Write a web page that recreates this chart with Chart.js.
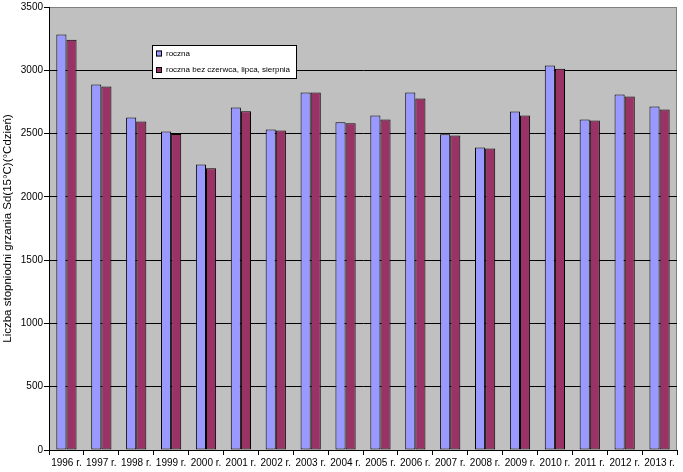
<!DOCTYPE html>
<html>
<head>
<meta charset="utf-8">
<script src="https://cdn.jsdelivr.net/npm/chart.js@4.4.1/dist/chart.umd.min.js"></script>
<style>
  html, body { margin: 0; padding: 0; background: #fff; }
  #wrap { width: 683px; height: 472px; position: relative; }
</style>
</head>
<body>
<div id="wrap"><canvas id="barChart"></canvas></div>
<script>
const years = ['1996 r.', '1997 r.', '1998 r.', '1999 r.', '2000 r.', '2001 r.', '2002 r.', '2003 r.', '2004 r.',
               '2005 r.', '2006 r.', '2007 r.', '2008 r.', '2009 r.', '2010 r.', '2011 r.', '2012 r.', '2013 r.'];
const roczna = [3282, 2887, 2627, 2516, 2255, 2705, 2532, 2824, 2589, 2642, 2824, 2495, 2390, 2674, 3037, 2611, 2808, 2713];
const bezLata = [3242, 2871, 2595, 2497, 2226, 2676, 2524, 2824, 2582, 2611, 2777, 2484, 2382, 2642, 3013, 2603, 2792, 2690];
const seriesNames = ['roczna', 'roczna bez czerwca, lipca, sierpnia'];
const yTicks = [0, 500, 1000, 1500, 2000, 2500, 3000, 3500];

const FONT = 'Arial, "Liberation Sans", sans-serif';

// grey plot area like the old Excel chart
const plotBackground = {
  id: 'plotBackground',
  beforeDraw(chart) {
    const a = chart.chartArea;
    const c = chart.ctx;
    c.save();
    c.fillStyle = '#c0c0c0';
    c.fillRect(a.left, a.top, a.right - a.left, a.bottom - a.top);
    c.strokeStyle = '#808080';
    c.lineWidth = 1;
    c.strokeRect(a.left + 0.5, a.top + 0.5, a.right - a.left - 1, a.bottom - a.top);
    c.restore();
  }
};

// boxed legend floating inside the plot
const boxLegend = {
  id: 'boxLegend',
  afterDraw(chart) {
    const c = chart.ctx;
    const x = 152, y = 45, w = 144, h = 33;
    c.save();
    c.fillStyle = '#fff';
    c.fillRect(x, y, w, h);
    c.strokeStyle = '#000';
    c.lineWidth = 1;
    c.strokeRect(x + 0.5, y + 0.5, w, h);
    c.font = '8px ' + FONT;
    c.textBaseline = 'middle';
    chart.data.datasets.forEach((ds, i) => {
      const cy = y + 8.5 + i * 16.5;
      c.fillStyle = ds.backgroundColor;
      c.fillRect(x + 4, cy - 3, 6, 6);
      c.strokeRect(x + 4.5, cy - 2.5, 5, 5);
      c.fillStyle = '#000';
      c.fillText(ds.label, x + 14, cy);
    });
    c.restore();
  }
};

const ctx = document.getElementById('barChart').getContext('2d');
new Chart(ctx, {
  type: 'bar',
  data: {
    labels: years,
    datasets: [{
      label: seriesNames[0],
      data: roczna,
      backgroundColor: '#9999ff',
      borderColor: '#000',
      borderWidth: 1,
      borderSkipped: false
    }, {
      label: seriesNames[1],
      data: bezLata,
      backgroundColor: '#993366',
      borderColor: '#000',
      borderWidth: 1,
      borderSkipped: false
    }]
  },
  options: {
    responsive: true,
    maintainAspectRatio: false,
    animation: false,
    layout: { padding: { left: 0, top: 7, right: 6, bottom: 0 } },
    datasets: { bar: { categoryPercentage: 0.58, barPercentage: 1.0 } },
    plugins: {
      legend: { display: false },
      tooltip: { enabled: false }
    },
    scales: {
      x: {
        grid: { offset: true, drawOnChartArea: false, color: '#000', tickLength: 5 },
        border: { color: '#000' },
        ticks: { color: '#000', font: { family: FONT, size: 10 }, maxRotation: 0, autoSkip: false, padding: 2 },
        afterFit(scale) { scale.height = 22; }
      },
      y: {
        min: 0,
        max: 3500,
        afterBuildTicks(scale) { scale.ticks = yTicks.map(v => ({ value: v })); },
        grid: {
          color: c => (c.tick && c.tick.value === 3500 ? 'rgba(0,0,0,0)' : '#000'),
          tickColor: '#000',
          tickLength: 5
        },
        border: { color: '#000' },
        ticks: {
          color: '#000',
          font: { family: FONT, size: 10 },
          padding: 1,
          callback: v => String(v)
        },
        title: {
          display: true,
          text: 'Liczba stopniodni grzania Sd(15°C)(°Cdzień)',
          color: '#000',
          font: { family: FONT, size: 11.5 },
          padding: { top: 1, bottom: 0 }
        },
        afterFit(scale) { scale.width = 49; }
      }
    }
  },
  plugins: [plotBackground, boxLegend]
});
</script>
</body>
</html>
